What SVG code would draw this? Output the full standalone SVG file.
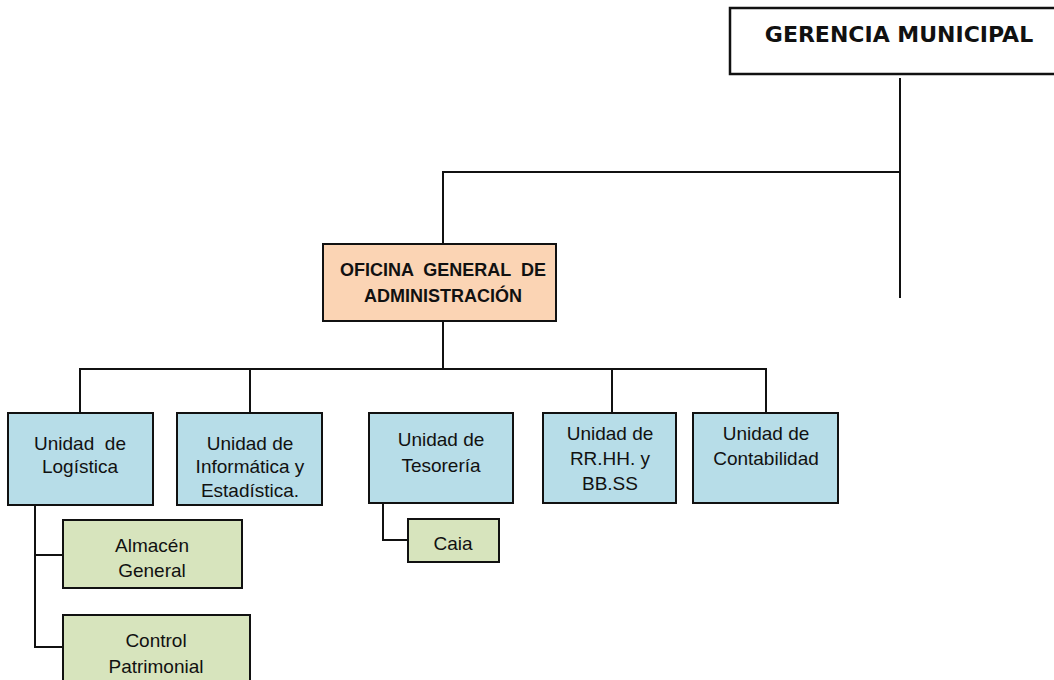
<svg xmlns="http://www.w3.org/2000/svg" width="1054" height="680" viewBox="0 0 1054 680">
<style>
.box{stroke:#111;stroke-width:2}
.top{fill:#fff;stroke-width:2.5}
.ofi{fill:#FBD4B4}
.l2{fill:#B7DDE8}
.l3{fill:#D7E4BD}
text{white-space:pre}
.t{font-family:"Liberation Sans",Arial,sans-serif;font-size:19px;fill:#111;text-anchor:middle}
.tb{font-family:"Liberation Sans",Arial,sans-serif;font-size:18px;font-weight:bold;fill:#111;text-anchor:middle}
.tg{font-family:"DejaVu Sans",Verdana,sans-serif;font-size:22px;font-weight:bold;fill:#111;text-anchor:middle}
.c{fill:none;stroke:#111;stroke-width:2}
</style>
<rect width="1054" height="680" fill="#fff"/>
<g id="connectors">
<path class="c" d="M900 78V298"/>
<path class="c" d="M900 172H443V244"/>
<path class="c" d="M443 321V369"/>
<path class="c" d="M80 413V369H766V413"/>
<path class="c" d="M250 369V413"/>
<path class="c" d="M612 369V413"/>
<path class="c" d="M35 505V647H63"/>
<path class="c" d="M35 555H63"/>
<path class="c" d="M383 503V540H408"/>
</g>
<g id="gerencia">
<rect class="box top" x="730" y="8" width="330" height="66"/>
<text class="tg" x="899" y="42">GERENCIA MUNICIPAL</text>
</g>
<g id="oficina">
<rect class="box ofi" x="323" y="244" width="233" height="77"/>
<text class="tb" x="443" y="276" xml:space="preserve">OFICINA  GENERAL  DE</text>
<text class="tb" x="443" y="302">ADMINISTRACIÓN</text>
</g>
<g id="logistica">
<rect class="box l2" x="8" y="413" width="145" height="92"/>
<text class="t" x="80" y="450" xml:space="preserve">Unidad  de</text>
<text class="t" x="80" y="473">Logística</text>
</g>
<g id="informatica">
<rect class="box l2" x="177" y="413" width="145" height="92"/>
<text class="t" x="250" y="450">Unidad de</text>
<text class="t" x="250" y="473">Informática y</text>
<text class="t" x="250" y="497">Estadística.</text>
</g>
<g id="tesoreria">
<rect class="box l2" x="369" y="413" width="144" height="90"/>
<text class="t" x="441" y="446">Unidad de</text>
<text class="t" x="441" y="472">Tesorería</text>
</g>
<g id="rrhh">
<rect class="box l2" x="543" y="413" width="133" height="90"/>
<text class="t" x="610" y="440">Unidad de</text>
<text class="t" x="610" y="465">RR.HH. y</text>
<text class="t" x="610" y="490">BB.SS</text>
</g>
<g id="contabilidad">
<rect class="box l2" x="693" y="413" width="145" height="90"/>
<text class="t" x="766" y="440">Unidad de</text>
<text class="t" x="766" y="465">Contabilidad</text>
</g>
<g id="caja">
<rect class="box l3" x="408" y="519" width="91" height="43"/>
<text class="t" x="453" y="550">Caia</text>
</g>
<g id="almacen">
<rect class="box l3" x="63" y="520" width="179" height="68"/>
<text class="t" x="152" y="552">Almacén</text>
<text class="t" x="152" y="577">General</text>
</g>
<g id="control">
<rect class="box l3" x="63" y="615" width="187" height="75"/>
<text class="t" x="156" y="647">Control</text>
<text class="t" x="156" y="673">Patrimonial</text>
</g>
</svg>
